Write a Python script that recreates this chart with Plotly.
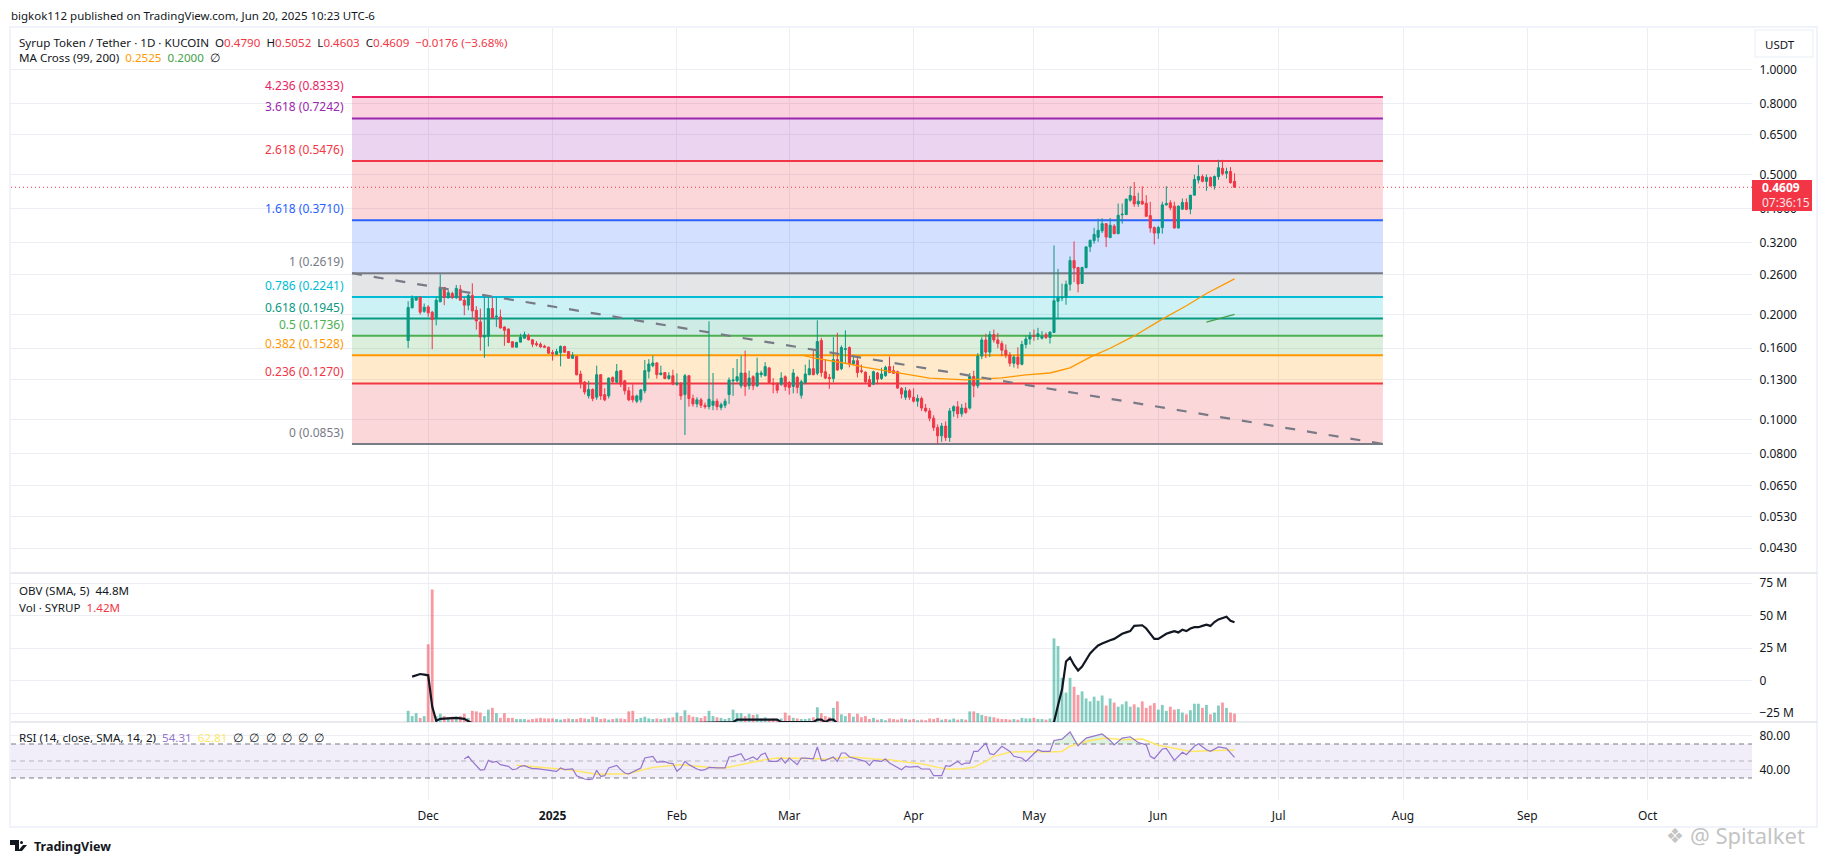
import numpy as np
import pandas as pd
import plotly.graph_objects as go

# Daily candles
days = pd.date_range('2024-11-26', periods=207)

open_ = [.1684,.2087,.2195,.2239,.2040,.2100,.2028,.1944,.2171,.2386,
         .2229,.2294,.2234,.2355,.2195,.2124,.2264,.2054,.1902,.1722,
         .1730,.2077,.1966,.1966,.1840,.1816,.1670,.1612,.1666,.1710,
         .1741,.1692,.1651,.1644,.1622,.1612,.1555,.1538,.1555,.1619,
         .1566,.1498,.1515,.1351,.1281,.1170,.1220,.1160,.1345,.1180,
         .1170,.1321,.1281,.1381,.1292,.1210,.1170,.1130,.1140,.1210,
         .1375,.1427,.1453,.1345,.1364,.1312,.1336,.1264,.1272,.1180,
         .1336,.1150,.1110,.1140,.1100,.1090,.1100,.1130,.1085,.1100,
         .1180,.1292,.1292,.1250,.1360,.1250,.1327,.1250,.1345,.1336,
         .1406,.1272,.1264,.1264,.1327,.1278,.1245,.1321,.1175,.1278,
         .1345,.1399,.1357,.1684,.1371,.1321,.1312,.1485,.1399,.1587,
         .1608,.1443,.1475,.1381,.1367,.1302,.1264,.1360,.1312,.1336,
         .1418,.1381,.1371,.1228,.1160,.1210,.1160,.1130,.1150,.1080,
         .1060,.1010,.0950,.0900,.0960,.0890,.1060,.1090,.1040,.1080,
         .1080,.1330,.1250,.1520,.1690,.1560,.1750,.1690,.1650,.1580,
         .1530,.1450,.1510,.1440,.1640,.1700,.1740,.1730,.1709,.1750,
         .1717,.1775,.2178,.2225,.2235,.2436,.2848,.2720,.2450,.2720,
         .3115,.3245,.3320,.3460,.3628,.3310,.3570,.3396,.3845,.3850,
         .4233,.4345,.4130,.4205,.4150,.3825,.3535,.3410,.3535,.4105,
         .4160,.4070,.3525,.3990,.4170,.3990,.4375,.4830,.4945,.4790,
         .4915,.4645,.4940,.5220,.5050,.5110,.4790]
high = [.2180,.2264,.2254,.2245,.2147,.2124,.2045,.2244,.2602,.2390,
        .2345,.2319,.2424,.2424,.2234,.2294,.2451,.2110,.2077,.2244,
        .2234,.2234,.2234,.2063,.1849,.1820,.1678,.1670,.1760,.1785,
        .1760,.1700,.1677,.1662,.1637,.1616,.1583,.1594,.1630,.1626,
        .1570,.1559,.1518,.1381,.1290,.1292,.1230,.1427,.1350,.1230,
        .1320,.1330,.1443,.1385,.1300,.1240,.1264,.1180,.1225,.1482,
        .1490,.1525,.1460,.1427,.1368,.1367,.1390,.1357,.1280,.1351,
        .1340,.1180,.1160,.1155,.1120,.1910,.1360,.1150,.1120,.1150,
        .1321,.1406,.1491,.1525,.1576,.1381,.1340,.1505,.1381,.1460,
        .1415,.1315,.1280,.1367,.1340,.1290,.1396,.1335,.1300,.1437,
        .1485,.1576,.1923,.1714,.1491,.1351,.1722,.1772,.1630,.1800,
        .1620,.1525,.1508,.1437,.1375,.1336,.1381,.1370,.1408,.1427,
        .1515,.1427,.1381,.1240,.1240,.1225,.1230,.1180,.1165,.1110,
        .1080,.1030,.0970,.0980,.0990,.1080,.1100,.1130,.1110,.1120,
        .1360,.1380,.1550,.1720,.1760,.1790,.1810,.1770,.1680,.1640,
        .1560,.1530,.1610,.1680,.1740,.1780,.1810,.1830,.1790,.1775,
        .1790,.3145,.2695,.2446,.2495,.2925,.3230,.2730,.2735,.3115,
        .3270,.3530,.3750,.3760,.3640,.3765,.3615,.4141,.4141,.4280,
        .4640,.4770,.4445,.4640,.4375,.4190,.3560,.3575,.4190,.4640,
        .4233,.4190,.4090,.4280,.4280,.4380,.5005,.5335,.5010,.5010,
        .4945,.4980,.5520,.5520,.5240,.5260,.5052]
low = [.1601,.2080,.2190,.1997,.2019,.1966,.1590,.1860,.2165,.2124,
       .2219,.2209,.2209,.2190,.1988,.2054,.1944,.1808,.1576,.1502,
       .1619,.1944,.1840,.1820,.1626,.1655,.1612,.1608,.1662,.1706,
       .1684,.1612,.1619,.1605,.1608,.1542,.1475,.1535,.1421,.1552,
       .1498,.1495,.1339,.1229,.1180,.1150,.1130,.1140,.1140,.1130,
       .1150,.1270,.1270,.1240,.1180,.1130,.1120,.1115,.1120,.1190,
       .1312,.1412,.1310,.1340,.1305,.1300,.1255,.1250,.1140,.0905,
       .1090,.1090,.1085,.1080,.1075,.1070,.1065,.1065,.1065,.1080,
       .1110,.1170,.1278,.1230,.1170,.1220,.1215,.1240,.1320,.1330,
       .1270,.1190,.1190,.1250,.1210,.1180,.1190,.1190,.1150,.1264,
       .1340,.1340,.1340,.1327,.1306,.1225,.1278,.1380,.1385,.1443,
       .1412,.1430,.1321,.1357,.1275,.1240,.1255,.1264,.1300,.1327,
       .1360,.1351,.1225,.1150,.1140,.1140,.1120,.1090,.1060,.1050,
       .0990,.0930,.0855,.0865,.0870,.0865,.1020,.1010,.1020,.1040,
       .1070,.1160,.1230,.1490,.1500,.1510,.1660,.1600,.1520,.1500,
       .1420,.1410,.1400,.1430,.1600,.1640,.1680,.1690,.1695,.1700,
       .1650,.1770,.1937,.2180,.2130,.2336,.2470,.2310,.2440,.2700,
       .3010,.3180,.3220,.3410,.3110,.3300,.3390,.3390,.3628,.3840,
       .4190,.4051,.4051,.4100,.3800,.3420,.3165,.3285,.3396,.4080,
       .3962,.3520,.3520,.3975,.3962,.3860,.4370,.4725,.4760,.4500,
       .4640,.4540,.4840,.4980,.4880,.4720,.4603]
close = [.2091,.2219,.2234,.2028,.2095,.2019,.1932,.2195,.2381,.2234,
         .2304,.2234,.2371,.2195,.2124,.2264,.2045,.1914,.1722,.1741,
         .2077,.1953,.1975,.1828,.1800,.1662,.1612,.1662,.1722,.1749,
         .1692,.1644,.1637,.1615,.1612,.1549,.1545,.1566,.1619,.1559,
         .1498,.1525,.1345,.1272,.1200,.1220,.1150,.1345,.1170,.1140,
         .1315,.1286,.1375,.1264,.1210,.1140,.1140,.1170,.1217,.1381,
         .1443,.1453,.1345,.1360,.1312,.1336,.1264,.1272,.1170,.1336,
         .1150,.1110,.1140,.1100,.1090,.1145,.1130,.1090,.1105,.1130,
         .1298,.1298,.1327,.1360,.1245,.1315,.1250,.1360,.1360,.1418,
         .1278,.1264,.1215,.1315,.1243,.1237,.1360,.1237,.1284,.1351,
         .1399,.1345,.1672,.1364,.1315,.1312,.1485,.1387,.1608,.1594,
         .1443,.1475,.1364,.1375,.1284,.1245,.1372,.1306,.1351,.1412,
         .1364,.1357,.1232,.1184,.1210,.1160,.1130,.1150,.1080,.1060,
         .1010,.0950,.0900,.0960,.0890,.1060,.1090,.1040,.1080,.1050,
         .1330,.1250,.1520,.1690,.1560,.1750,.1690,.1650,.1580,.1530,
         .1450,.1510,.1440,.1640,.1700,.1740,.1730,.1760,.1730,.1717,
         .1778,.2187,.2230,.2235,.2436,.2848,.2710,.2441,.2720,.3115,
         .3250,.3380,.3472,.3628,.3322,.3590,.3396,.3833,.3860,.4260,
         .4365,.4130,.4205,.4130,.3808,.3525,.3410,.3535,.4105,.4141,
         .4030,.3525,.4070,.4170,.3985,.4375,.4850,.4945,.4790,.4915,
         .4645,.4945,.5240,.5035,.5110,.4750,.4609]

# Volume in millions
volume = [1.9,1.0,1.5,0.7,1.0,13.2,22.5,1.0,1.4,1.0,
          0.8,0.9,0.9,1.0,1.4,0.7,1.9,1.8,1.6,1.0,
          2.1,2.4,1.5,0.7,1.5,0.7,0.7,0.5,0.5,0.5,
          0.4,0.5,0.6,0.7,0.6,0.6,0.6,0.5,0.4,0.5,
          0.6,0.5,0.5,0.7,0.6,0.5,0.9,0.8,0.5,0.6,
          0.4,0.5,0.6,0.6,0.5,1.8,1.9,0.5,0.7,0.9,
          0.6,0.5,0.6,0.5,0.6,0.7,0.8,1.6,1.0,2.0,
          1.2,0.9,0.8,0.7,1.0,1.9,1.0,0.8,0.7,0.5,
          0.7,2.1,1.5,1.5,1.0,1.4,1.2,1.3,0.6,0.8,
          0.5,0.6,0.5,0.6,1.6,1.1,0.7,0.6,0.5,0.5,
          0.6,0.8,2.5,1.5,1.0,0.8,2.4,3.5,1.3,1.0,
          1.5,0.9,1.4,0.8,1.0,0.5,0.7,0.4,0.5,0.3,
          0.6,0.5,0.4,0.6,0.5,0.4,0.5,0.3,0.4,0.3,
          0.6,0.5,0.7,0.4,0.5,0.4,0.6,0.4,0.5,0.4,
          1.8,1.8,1.5,1.2,1.0,0.9,0.8,0.6,0.5,0.5,
          0.4,0.5,0.4,0.7,0.6,0.6,0.7,0.5,0.5,0.4,
          0.6,14.2,12.9,7.5,5.0,7.5,6.0,4.6,5.2,4.0,
          3.5,4.3,3.6,4.5,2.8,4.0,3.3,2.6,3.0,3.5,
          2.6,3.0,2.5,3.5,2.4,2.8,3.2,2.1,2.9,1.9,
          2.6,2.1,2.2,1.6,1.3,2.0,3.1,3.1,2.4,2.9,
          1.3,1.6,2.8,3.3,2.4,1.6,1.42]

# OBV in millions (most of the early part sits under the pane and gets clipped)
obv_idx = [1,2,3,4,5,6,7,8,10,12,14,15,16,40,81,82,92,93,101,102,103,104,105,106,107,160,
           161,162,163,164,165,166,167,168,169,170,171,172,173,174,175,176,177,178,179,180,
           181,183,184,185,186,187,188,189,190,191,192,193,194,195,196,197,198,199,200,201,
           202,203,204,205,206]
obv_val = [3,4,5,4.5,4,-20,-31,-29.5,-29,-28.8,-29.5,-31,-33,-35,-32,-30,-30,-32,-32,-30,-30,-32,-30,-30,-33,-34,
           -32,-19,-7,14.6,17.7,12,7.7,10.8,16,20.8,24,27,28.5,30,31,32,34,36,37,38,
           42,42.5,40,36,32,32,34,36,37,38,37,39,38,40,41,41,42,43,42,45,
           47,48,49,46,44.8]

ma99_idx = [98,101,109,114,120,126,130,139,148,154,160,165,170,175,181,188,194,199,206]
ma99_val = [.1532,.1502,.1450,.1412,.1375,.1342,.1315,.1300,.1317,.1343,.1360,.1406,.1510,.1600,.1735,.1937,.2115,.2293,.2525]
ma200_idx = [199,206]
ma200_val = [.1900,.2000]

rsi_idx = [14,15,16,17,18,19,20,21,22,23,25,26,27,28,29,30,31,32,34,35,37,38,39,41,42,44,45,46,47,48,49,50,
           52,53,54,55,57,58,59,61,62,64,65,66,67,68,69,70,72,73,74,75,77,79,80,81,83,84,86,87,88,89,90,92,93,
           94,95,97,98,99,101,102,103,104,106,107,108,109,110,112,114,115,116,118,119,120,122,123,124,125,127,
           128,130,131,133,134,135,137,138,139,140,141,142,144,145,146,148,150,151,153,154,156,157,158,160,161,
           163,165,167,169,171,173,175,176,178,180,182,184,185,186,188,189,191,193,194,196,197,199,200,202,204,
           205,206]
rsi_val = [52.4,55.5,49.6,44.5,39.4,39.8,50.8,48.4,49.6,45.7,43.7,39.8,40.6,43.7,44.5,42.5,41,41,39.8,38.6,37.8,41.8,
           39.8,40.6,32.7,28.8,28,28.8,39,32,32.7,41.8,44.9,39.8,35.9,35,39.8,41.8,53.5,55.5,48.8,49.2,47.6,47,38,
           41.8,49.6,45.7,40.6,39,39.8,42.5,41.8,41.8,54.7,55.5,58.6,50.8,54.7,51.6,57.5,59.4,49.6,49.6,53.5,47.6,
           53.5,45.7,53.5,53.5,52.4,66.5,50.8,50.8,54.7,49.6,59.4,59.4,54.7,52.4,49.6,44.9,50.8,49.6,52.4,47.6,41.8,
           39.8,43.7,42.9,43.7,40.6,40.6,32.7,32.7,44.5,43.7,49.6,45.7,47.6,47.6,61.3,61.3,71,58.6,57.5,67.3,61.3,
           55.5,53.5,49.6,59.4,63.3,61.3,61.3,74.2,75.8,84.1,68,77,79.8,81.8,74.2,69,77,78.5,71.8,69,55.5,52.8,64.1,
           64.9,50.8,60.2,57.5,67.3,70.4,63.3,61.3,66.5,64.9,59.4,54.31]
rsi_ma_idx = [27,30,33,37,40,44,47,51,55,58,61,65,68,72,75,79,82,86,89,92,96,100,104,109,111,116,120,124,128,132,135,
              138,141,144,146,150,154,159,163,165,170,174,178,183,187,191,195,200,206]
rsi_ma_val = [44.9,43.7,42.5,40.6,39.8,36.7,34.3,34.7,35,39,42.5,44.5,45.7,43.7,42.5,41.8,44.9,48.8,51.6,53.5,52.8,52.8,
              52.4,53.9,54.7,52.4,51.6,48.8,46.8,42.5,40.2,40.9,42.5,49.6,55.5,60.2,61.3,60.6,61.3,67.3,74.2,77,75,
              75.8,68.6,65,61.3,62.1,62.81]

# Fib retracement
fib_start = '2024-11-12'
fib_end = '2025-07-27'
fib_ratio = ['0', '0.236', '0.382', '0.5', '0.618', '0.786', '1', '1.618', '2.618', '3.618', '4.236']
fib_price = [.0853, .1270, .1528, .1736, .1945, .2241, .2619, .3710, .5476, .7242, .8333]
fib_color = ['#787b86', '#f23645', '#ff9800', '#4caf50', '#089981', '#00bcd4',
             '#787b86', '#2962ff', '#f23645', '#9c27b0', '#e91e63']
fib_fill = ['rgba(242,54,69,.2)', 'rgba(255,152,0,.2)', 'rgba(76,175,80,.2)', 'rgba(8,153,129,.2)',
            'rgba(0,188,212,.2)', 'rgba(120,123,134,.2)', 'rgba(41,98,255,.2)', 'rgba(242,54,69,.2)',
            'rgba(156,39,176,.2)', 'rgba(233,30,99,.2)']

trend_x = [fib_start, fib_end]
trend_y = [.2619, .0853]
last_price = .4609

price_ticks = [1.0, .8, .65, .5, .4, .32, .26, .2, .16, .13, .1, .08, .065, .053, .043]
obv_ticks = [75, 50, 25, 0, -25]
obv_labels = ['75 M', '50 M', '25 M', '0', '\u221225 M']
rsi_ticks = [80, 40]
rsi_labels = ['80.00', '40.00']
month_ticks = ['2024-12-01', '2025-01-01', '2025-02-01', '2025-03-01', '2025-04-01', '2025-05-01',
               '2025-06-01', '2025-07-01', '2025-08-01', '2025-09-01', '2025-10-01']
month_labels = ['Dec', '<b>2025</b>', 'Feb', 'Mar', 'Apr', 'May', 'Jun', 'Jul', 'Aug', 'Sep', 'Oct']

W, H = 1827, 863
FONT = 'Noto Sans'
INK = '#131722'
GREEN = '#089981'
RED = '#f23645'
GRID = '#eceef3'
BODY = 11.6
x_min, x_max = '2024-08-19', '2025-10-27'


def px(x):
    return x / W


def py(y):
    return 1 - y / H


fig = go.Figure()

fig.add_trace(go.Candlestick(
    x=days, open=open_, high=high, low=low, close=close, yaxis='y', whiskerwidth=0,
    increasing=dict(line=dict(color=GREEN, width=1), fillcolor=GREEN),
    decreasing=dict(line=dict(color=RED, width=1), fillcolor=RED),
))
fig.add_trace(go.Scatter(x=days[ma99_idx], y=ma99_val, mode='lines', yaxis='y',
                         line=dict(color='#ff9800', width=1.3)))
fig.add_trace(go.Scatter(x=days[ma200_idx], y=ma200_val, mode='lines', yaxis='y',
                         line=dict(color='#43a047', width=1.3)))
fig.add_trace(go.Scatter(x=trend_x, y=trend_y, mode='lines', yaxis='y',
                         line=dict(color='#787b86', width=2.2, dash='10px,12px')))

bar_colors = ['rgba(8,153,129,.5)' if c >= o else 'rgba(242,54,69,.5)' for o, c in zip(open_, close)]
fig.add_trace(go.Bar(x=days, y=volume, yaxis='y2', marker=dict(color=bar_colors, line=dict(width=0))))
fig.add_trace(go.Scatter(x=days[obv_idx], y=obv_val, mode='lines', yaxis='y4',
                         line=dict(color='#131722', width=2.2)))

# overbought tint above the 70 line
fig.add_trace(go.Scatter(x=days[rsi_idx], y=[70] * len(rsi_idx), mode='lines', yaxis='y3', line=dict(width=0)))
fig.add_trace(go.Scatter(x=days[rsi_idx], y=[max(v, 70) for v in rsi_val], mode='lines', yaxis='y3',
                         line=dict(width=0), fill='tonexty', fillcolor='rgba(76,175,80,.18)'))
fig.add_trace(go.Scatter(x=days[rsi_ma_idx], y=rsi_ma_val, mode='lines', yaxis='y3',
                         line=dict(color='#ffe766', width=1.5)))
fig.add_trace(go.Scatter(x=days[rsi_idx], y=rsi_val, mode='lines', yaxis='y3',
                         line=dict(color='#9575cd', width=1.2)))

shapes = []
# fib bands and level lines
for i in range(len(fib_fill)):
    shapes.append(dict(type='rect', xref='x', yref='y', x0=fib_start, x1=fib_end,
                       y0=fib_price[i], y1=fib_price[i + 1], fillcolor=fib_fill[i],
                       line=dict(width=0), layer='between'))
for p, c in zip(fib_price, fib_color):
    shapes.append(dict(type='line', xref='x', yref='y', x0=fib_start, x1=fib_end, y0=p, y1=p,
                       line=dict(color=c, width=2), layer='between'))
# last price
shapes.append(dict(type='line', xref='x', yref='y', x0=x_min, x1=x_max, y0=last_price, y1=last_price,
                   line=dict(color=RED, width=1.2, dash='1px,3px')))
# rsi band
shapes.append(dict(type='rect', xref='x', yref='y3', x0=x_min, x1=x_max, y0=30, y1=70,
                   fillcolor='rgba(126,87,194,.1)', line=dict(width=0), layer='between'))
for lvl, col in zip([70, 50, 30], ['#787b86', 'rgba(120,123,134,.5)', '#787b86']):
    shapes.append(dict(type='line', xref='x', yref='y3', x0=x_min, x1=x_max, y0=lvl, y1=lvl,
                       line=dict(color=col, width=1, dash='5px,4px'), layer='between'))
# pane frame
shapes.append(dict(type='rect', xref='paper', yref='paper', x0=px(10), x1=px(1817), y0=py(827), y1=py(27),
                   line=dict(color='#f0f3fa', width=2), layer='below'))
for sep in [573, 722]:
    shapes.append(dict(type='line', xref='paper', yref='paper', x0=px(11), x1=px(1817), y0=py(sep), y1=py(sep),
                       line=dict(color='#e0e3eb', width=1.5), layer='below'))
# USDT button and price tag
shapes.append(dict(type='rect', xref='paper', yref='paper', x0=px(1755), x1=px(1813), y0=py(57), y1=py(30),
                   line=dict(color='#f0f3fa', width=1.5), fillcolor='white'))
shapes.append(dict(type='rect', xref='paper', yref='paper', x0=px(1752), x1=px(1812), y0=py(211), y1=py(180),
                   line=dict(width=0), fillcolor=RED))
# TradingView mark
shapes.append(dict(type='path', xref='paper', yref='paper', line=dict(width=0), fillcolor=INK,
                   path=f'M {px(10)} {py(840)} H {px(19)} V {py(851)} H {px(15)} V {py(845)} H {px(10)} Z'))
shapes.append(dict(type='circle', xref='paper', yref='paper', line=dict(width=0), fillcolor=INK,
                   x0=px(20), x1=px(23), y0=py(844), y1=py(841)))
shapes.append(dict(type='path', xref='paper', yref='paper', line=dict(width=0), fillcolor=INK,
                   path=f'M {px(23)} {py(845)} H {px(27)} L {px(22)} {py(851)} H {px(18)} Z'))


def txt(x, y, text, size=BODY, color=INK, anchor='left'):
    return dict(xref='paper', yref='paper', x=px(x), y=py(y), text=text, showarrow=False, xanchor=anchor,
                yanchor='middle', align=anchor, font=dict(family=FONT, size=size, color=color))


def span(text, color):
    return f'<span style="color:{color}">{text}</span>'


annotations = [
    txt(9, 15, 'bigkok112 published on TradingView.com, Jun 20, 2025 10:23 UTC-6', size=11.5),
    txt(17, 42, 'Syrup Token / Tether \u00b7 1D \u00b7 KUCOIN&nbsp;&nbsp;O' + span('0.4790', RED) + '&nbsp;&nbsp;H'
        + span('0.5052', RED) + '&nbsp;&nbsp;L' + span('0.4603', RED) + '&nbsp;&nbsp;C' + span('0.4609', RED)
        + '&nbsp;&nbsp;' + span('\u22120.0176 (\u22123.68%)', RED)),
    txt(17, 58, 'MA Cross (99, 200)&nbsp;&nbsp;' + span('0.2525', '#ff9800') + '&nbsp;&nbsp;'
        + span('0.2000', '#43a047') + '&nbsp;&nbsp;\u2205'),
    txt(17, 590, 'OBV (SMA, 5)&nbsp;&nbsp;44.8M'),
    txt(17, 607, 'Vol \u00b7 SYRUP&nbsp;&nbsp;' + span('1.42M', RED)),
    txt(17, 737, 'RSI (14, close, SMA, 14, 2)&nbsp;&nbsp;' + span('54.31', '#9575cd') + '&nbsp;&nbsp;'
        + span('62.81', '#ffe766') + '&nbsp;&nbsp;\u2205&nbsp;&nbsp;\u2205&nbsp;&nbsp;\u2205&nbsp;&nbsp;\u2205&nbsp;&nbsp;\u2205&nbsp;&nbsp;\u2205'),
    txt(1763, 44, 'USDT', size=11.5),
    txt(1760, 188, '<b>0.4609</b>', size=12, color='white'),
    txt(1760, 203, '07:36:15', size=12, color='#fde3e5'),
    txt(32, 846, '<b>TradingView</b>', size=12.5),
    txt(1664, 835, '\u2756', size=20, color='#c4c4c4'),
    txt(1688, 835, '@ Spitalket', size=22, color='#c4c4c4'),
]
for r, p, c in zip(fib_ratio, fib_price, fib_color):
    annotations.append(dict(xref='x', yref='y', x=fib_start, y=np.log10(p), text=f'{r} ({p:.4f})', showarrow=False,
                            xanchor='right', yanchor='bottom', xshift=-6, yshift=1,
                            font=dict(family=FONT, size=12, color=c)))

axis_common = dict(side='right', anchor='x', showline=False, zeroline=False, gridcolor=GRID, gridwidth=1,
                   ticks='outside', ticklen=4, tickcolor='rgba(0,0,0,0)', tickfont=dict(family=FONT, size=12, color=INK))

fig.update_layout(
    width=W, height=H, margin=dict(l=0, r=0, t=0, b=0), showlegend=False, paper_bgcolor='white',
    plot_bgcolor='white', hovermode=False, bargap=0.3, boxgap=0.25,
    xaxis=dict(domain=[px(11), px(1752)], range=[x_min, x_max], anchor='y3', type='date',
               rangeslider=dict(visible=False), tickmode='array', tickvals=month_ticks, ticktext=month_labels,
               showgrid=True, gridcolor=GRID, showline=False, zeroline=False, ticks='outside', ticklen=5,
               tickcolor='rgba(0,0,0,0)', tickfont=dict(family=FONT, size=12, color=INK)),
    yaxis=dict(domain=[py(573), py(28)], type='log', range=[np.log10(.03655), np.log10(1.312)], tickmode='array',
               tickvals=price_ticks, ticktext=[f'{t:.4f}' for t in price_ticks], **axis_common),
    yaxis2=dict(domain=[py(722), py(573)], range=[0, 25.3], visible=False, anchor='x'),
    yaxis3=dict(domain=[py(800), py(722)], range=[4.1, 95.9], tickmode='array', tickvals=rsi_ticks,
                ticktext=rsi_labels, **axis_common),
    yaxis4=dict(overlaying='y2', range=[-31.9, 82.7], tickmode='array', tickvals=obv_ticks,
                ticktext=obv_labels, **axis_common),
    shapes=shapes, annotations=annotations,
)

fig.write_html('out.html', config={'displayModeBar': False}, post_script="document.body.style.margin='0';")
